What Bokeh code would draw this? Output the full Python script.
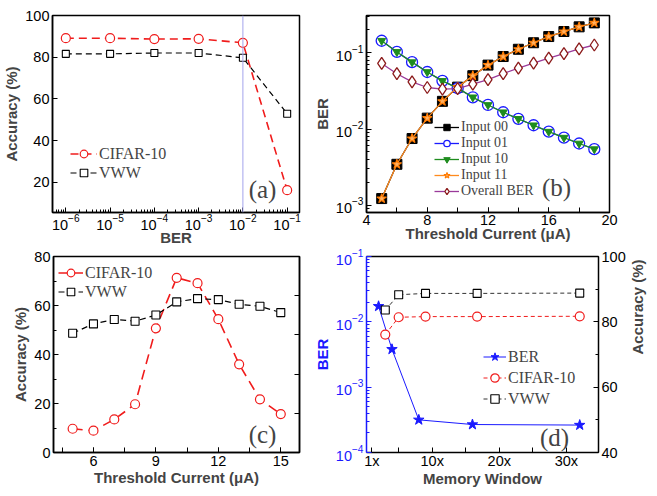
import math
from bokeh.plotting import figure
from bokeh.layouts import column, row
from bokeh.models import (Range1d, LinearAxis, FixedTicker, SingleIntervalTicker, Span, Label,
                          Legend, LegendItem, LinearScale, CustomJSTickFormatter, LogTickFormatter)
from bokeh.embed import file_html
from bokeh.resources import INLINE

# ---------------- data ----------------
# (a) accuracy vs BER
ber_a = [1e-6, 1e-5, 1e-4, 1e-3, 1e-2, 1e-1]
cifar_a = [89.1, 89.1, 88.7, 88.8, 86.9, 16.2]
vww_a = [81.6, 81.6, 82.0, 82.0, 79.7, 52.9]
threshold_ber = 1e-2

# (b) BER vs threshold current
current_b = [5, 6, 7, 8, 9, 10, 11, 12, 13, 14, 15, 16, 17, 18, 19]
ber_in00 = [1.22e-3, 3.44e-3, 7.5e-3, 0.0139, 0.0231, 0.0355, 0.0502, 0.0691, 0.0896, 0.1116, 0.136, 0.164, 0.191, 0.220, 0.248]
ber_in01 = [0.1445, 0.103, 0.0756, 0.0561, 0.0429, 0.0344, 0.0261, 0.0207, 0.0166, 0.0136, 0.0112, 0.00923, 0.0077, 0.00645, 0.00544]
ber_in10 = [0.1445, 0.103, 0.0756, 0.0561, 0.0429, 0.0344, 0.0261, 0.0207, 0.0166, 0.0136, 0.0112, 0.00923, 0.0077, 0.00645, 0.00544]
ber_in11 = [1.22e-3, 3.44e-3, 7.5e-3, 0.0139, 0.0231, 0.0355, 0.0502, 0.0691, 0.0896, 0.1116, 0.136, 0.164, 0.191, 0.220, 0.248]
ber_overall = [0.0726, 0.0533, 0.0416, 0.0351, 0.0334, 0.0340, 0.0388, 0.0446, 0.0533, 0.0632, 0.0734, 0.0853, 0.098, 0.1127, 0.127]

# (c) accuracy vs threshold current
current_c = [5, 6, 7, 8, 9, 10, 11, 12, 13, 14, 15]
cifar_c = [9.7, 8.9, 13.5, 19.7, 50.7, 71.3, 69.1, 54.4, 36.0, 21.7, 15.7]
vww_c = [48.7, 52.5, 54.3, 53.6, 56.1, 61.5, 62.8, 62.4, 60.5, 59.7, 57.1]
right_ticks_c = [16, 32, 48, 64]

# (d) memory window
mw_ber = [2, 4, 8, 16, 32]
ber_d = [0.0173, 0.0038, 3.16e-4, 2.68e-4, 2.63e-4]
mw_acc = [3, 5, 9, 16.7, 32]
cifar_d = [76.1, 81.4, 81.6, 81.6, 81.7]
vww_d = [83.6, 88.3, 88.7, 88.7, 88.8]
mw_ticks = [1, 10, 20, 30]
mw_labels = ["1x", "10x", "20x", "30x"]
mw_minor = [5, 15, 25]

RED = "#f01c1c"
BLUE = "#1a1aff"
SANS = "Liberation Sans"
SERIF = "Liberation Serif"


def log_minor(e0, e1):
    return [m * 10.0 ** e for e in range(e0, e1) for m in range(2, 10)]


def style(p):
    p.xgrid.visible = False
    p.ygrid.visible = False
    p.background_fill_color = "white"
    p.border_fill_color = "white"
    p.outline_line_color = "black"
    p.outline_line_width = 1.5
    for ax in p.axis:
        ax.axis_line_width = 1.5
        ax.axis_line_color = "black"
        ax.major_tick_in = 5
        ax.major_tick_out = 0
        ax.minor_tick_in = 3
        ax.minor_tick_out = 0
        ax.major_label_text_font = SANS
        ax.major_label_text_font_size = "14.5px"
        ax.major_label_text_color = "black"
        ax.axis_label_text_font = SANS
        ax.axis_label_text_font_size = "15px"
        ax.axis_label_text_font_style = "bold"
        ax.major_label_standoff = 3
        ax.axis_label_standoff = 2


def legend(items, x, y, size, gh, gw):
    return Legend(items=items, location=(x, y), label_text_font=SERIF, label_text_font_size=size,
                  glyph_height=gh, label_height=gh, glyph_width=gw, spacing=0, padding=0, margin=0,
                  label_standoff=2, border_line_color=None, background_fill_alpha=0)


def panel_label(p, text, x, y):
    p.add_layout(Label(x=x, y=y, x_units="screen", y_units="screen", text=text, text_font=SERIF,
                       text_font_size="25px", text_align="center", text_baseline="middle"))


common = dict(output_backend="svg", toolbar_location=None)

# ---------------- (a) ----------------
pa = figure(width=310, height=248, x_axis_type="log", x_range=Range1d(5e-7, 0.19),
            y_range=Range1d(5.5, 100), min_border_left=52, min_border_right=11,
            min_border_top=15, min_border_bottom=36, **common)
pa.add_layout(Span(location=threshold_ber, dimension="height", line_color="#a4a4ec", line_width=1))
la1 = pa.line(ber_a, cifar_a, line_color=RED, line_width=1.6, line_dash="8 5")
sa1 = pa.scatter(ber_a, cifar_a, marker="circle", size=9, line_color=RED, fill_color="white", line_width=1.2)
la2 = pa.line(ber_a, vww_a, line_color="black", line_width=1.2, line_dash="6 4")
sa2 = pa.scatter(ber_a, vww_a, marker="square", size=7, line_color="black", fill_color="white", line_width=1.1)
style(pa)
pa.xaxis.ticker = FixedTicker(ticks=ber_a, minor_ticks=log_minor(-7, 0))
pa.xaxis.formatter = LogTickFormatter()
pa.xaxis.major_label_standoff = 1
pa.xaxis.axis_label_standoff = -4
pa.yaxis.ticker = SingleIntervalTicker(interval=20, num_minor_ticks=0)
pa.xaxis.axis_label = "BER"
pa.yaxis.axis_label = "Accuracy (%)"
pa.add_layout(legend([LegendItem(label="CIFAR-10", renderers=[la1, sa1]),
                      LegendItem(label="VWW", renderers=[la2, sa2])], 18, 30, "16px", 19, 27))
panel_label(pa, "(a)", 210, 23)

# ---------------- (b) ----------------
pb = figure(width=347, height=248, y_axis_type="log", x_range=Range1d(4, 20),
            y_range=Range1d(8.0e-4, 0.31), min_border_left=52, min_border_right=48,
            min_border_top=14, min_border_bottom=35, **common)
lb0 = pb.line(current_b, ber_in00, line_color="black", line_width=1.3)
sb0 = pb.scatter(current_b, ber_in00, marker="square", size=10, line_color="black", fill_color="black")
lb1 = pb.line(current_b, ber_in01, line_color=BLUE, line_width=1.3)
sb1 = pb.scatter(current_b, ber_in01, marker="circle", size=11, line_color=BLUE, fill_color="white", line_width=1.3)
lb2 = pb.line(current_b, ber_in10, line_color="#1e8c1e", line_width=1.3)
sb2 = pb.scatter(current_b, ber_in10, marker="inverted_triangle", size=8, line_color="#1e8c1e", fill_color="#1e8c1e")
lb3 = pb.line(current_b, ber_in11, line_color="#ff8a1e", line_width=1.3)
sb3 = pb.scatter(current_b, ber_in11, marker="star", size=10, line_color="#ff7a00", fill_color="#ffb060", line_width=1.1)
lb4 = pb.line(current_b, ber_overall, line_color="#9a3a9a", line_width=1.3)
sb4 = pb.scatter(current_b, ber_overall, marker="diamond", size=12, line_color="#8b1a1a", fill_color="white", line_width=1.3)
style(pb)
pb.xaxis.ticker = SingleIntervalTicker(interval=4, num_minor_ticks=2)
pb.xaxis.minor_tick_in = 5
pb.xaxis.major_label_standoff = 2
pb.xaxis.axis_label_standoff = -3
pb.yaxis.ticker = FixedTicker(ticks=[1e-3, 1e-2, 1e-1], minor_ticks=log_minor(-4, 0))
pb.yaxis.formatter = LogTickFormatter()
pb.xaxis.axis_label = "Threshold Current (μA)"
pb.yaxis.axis_label = "BER"
pb.add_layout(legend([LegendItem(label="Input 00", renderers=[lb0, sb0]),
                      LegendItem(label="Input 01", renderers=[lb1, sb1]),
                      LegendItem(label="Input 10", renderers=[lb2, sb2]),
                      LegendItem(label="Input 11", renderers=[lb3, sb3]),
                      LegendItem(label="Overall BER", renderers=[lb4, sb4])], 68, 13, "14px", 16, 25))
panel_label(pb, "(b)", 190, 25)

# ---------------- (c) ----------------
pc = figure(width=310, height=248, x_range=Range1d(4.08, 15.9), y_range=Range1d(0, 80),
            min_border_left=53, min_border_right=11, min_border_top=8, min_border_bottom=40, **common)
lc1 = pc.line(current_c, cifar_c, line_color=RED, line_width=1.6, line_dash="10 6")
sc1 = pc.scatter(current_c, cifar_c, marker="circle", size=9, line_color=RED, fill_color="white", line_width=1.2)
lc2 = pc.line(current_c, vww_c, line_color="black", line_width=1.2, line_dash="6 4")
sc2 = pc.scatter(current_c, vww_c, marker="square", size=8, line_color="black", fill_color="white", line_width=1.1)
pc.add_layout(LinearAxis(ticker=FixedTicker(ticks=right_ticks_c),
                         formatter=CustomJSTickFormatter(code="return ''")), "right")
style(pc)
pc.xaxis.ticker = SingleIntervalTicker(interval=3, num_minor_ticks=2)
pc.xaxis.minor_tick_in = 5
pc.xaxis.axis_label_standoff = 0
pc.left[0].ticker = SingleIntervalTicker(interval=20, num_minor_ticks=2)
pc.xaxis.axis_label = "Threshold Current (μA)"
pc.left[0].axis_label = "Accuracy (%)"
pc.add_layout(legend([LegendItem(label="CIFAR-10", renderers=[lc1, sc1]),
                      LegendItem(label="VWW", renderers=[lc2, sc2])], 5, 151, "16px", 19, 25))
panel_label(pc, "(c)", 209, 18)

# ---------------- (d) ----------------
pd_ = figure(width=347, height=248, y_axis_type="log", x_range=Range1d(0.2, 34.8),
             y_range=Range1d(1e-4, 1e-1), min_border_left=53, min_border_right=49,
             min_border_top=7, min_border_bottom=44, **common)
pd_.extra_y_ranges = {"acc": Range1d(40, 100)}
pd_.extra_y_scales = {"acc": LinearScale()}
ld1 = pd_.line(mw_ber, ber_d, line_color=BLUE, line_width=1)
sd1 = pd_.scatter(mw_ber, ber_d, marker="star", size=11, line_color=BLUE, fill_color=BLUE)
ld2 = pd_.line(mw_acc, cifar_d, line_color=RED, line_width=1, line_dash="4 3", y_range_name="acc")
sd2 = pd_.scatter(mw_acc, cifar_d, marker="circle", size=9, line_color=RED, fill_color="white",
                  line_width=1.2, y_range_name="acc")
ld3 = pd_.line(mw_acc, vww_d, line_color="#333333", line_width=1, line_dash="4 3", y_range_name="acc")
sd3 = pd_.scatter(mw_acc, vww_d, marker="square", size=8, line_color="black", fill_color="white",
                  line_width=1.1, y_range_name="acc")
right_d = LinearAxis(y_range_name="acc", axis_label="Accuracy (%)",
                     ticker=SingleIntervalTicker(interval=20, num_minor_ticks=2))
pd_.add_layout(right_d, "right")
bottom_d = pd_.below[0]
left_d = pd_.left[0]
top_d = LinearAxis(ticker=FixedTicker(ticks=[]), formatter=CustomJSTickFormatter(code="return ''"))
pd_.add_layout(top_d, "above")
style(pd_)
top_d.axis_label = None
pd_.outline_line_color = None
right_d.axis_label_orientation = math.pi / 2
right_d.axis_label_standoff = 9
bottom_d.ticker = FixedTicker(ticks=mw_ticks, minor_ticks=mw_minor)
bottom_d.major_label_overrides = {t: s for t, s in zip(mw_ticks, mw_labels)}
bottom_d.minor_tick_in = 5
bottom_d.major_label_standoff = 0
bottom_d.axis_label = "Memory Window"
bottom_d.axis_label_standoff = -2
left_d.ticker = FixedTicker(ticks=[1e-4, 1e-3, 1e-2, 1e-1], minor_ticks=log_minor(-4, -1))
left_d.formatter = LogTickFormatter()
left_d.axis_label = "BER"
left_d.axis_line_color = BLUE
left_d.major_tick_line_color = BLUE
left_d.minor_tick_line_color = BLUE
left_d.major_label_text_color = BLUE
left_d.axis_label_text_color = BLUE
pd_.add_layout(legend([LegendItem(label="BER", renderers=[ld1, sd1]),
                       LegendItem(label="CIFAR-10", renderers=[ld2, sd2]),
                       LegendItem(label="VWW", renderers=[ld3, sd3])], 117, 43, "16px", 21, 23))
panel_label(pd_, "(d)", 188, 15)

layout = column(row(pa, pb), row(pc, pd_))
open("out.html", "w").write(file_html(layout, INLINE))
